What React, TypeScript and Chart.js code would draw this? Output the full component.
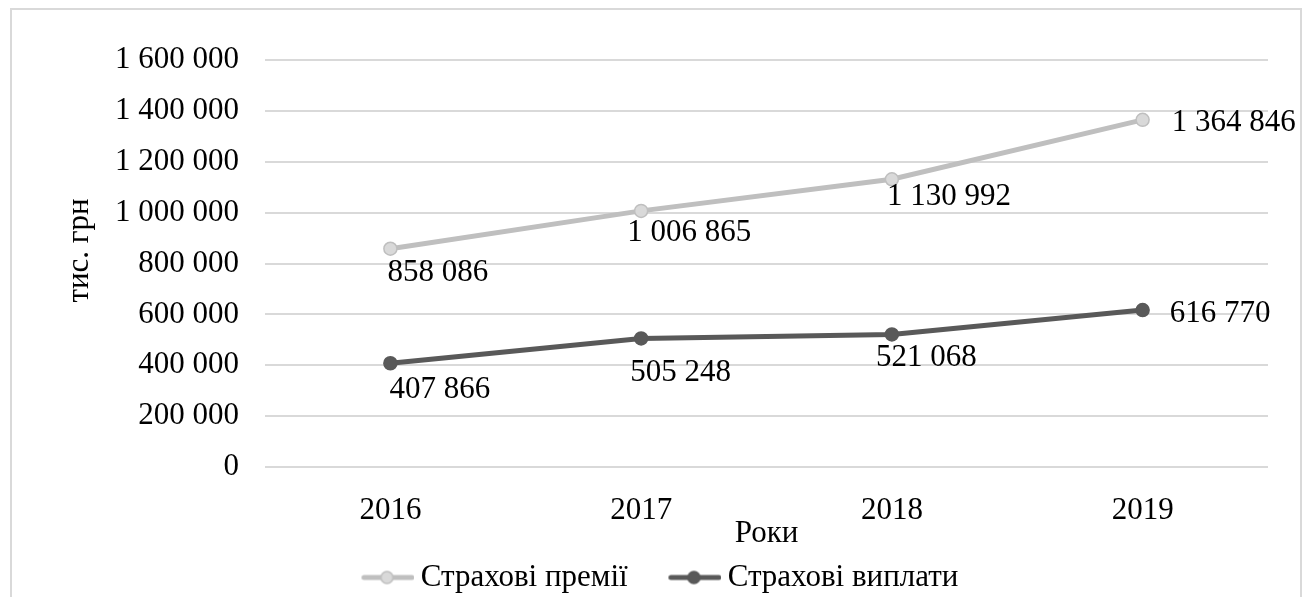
import React, { useEffect, useRef } from "react";
import { Chart, registerables } from "chart.js";

Chart.register(...registerables);

const years = ["2016", "2017", "2018", "2019"];
const premiums = [858086, 1006865, 1130992, 1364846];
const payouts = [407866, 505248, 521068, 616770];
const seriesNames = ["Страхові премії", "Страхові виплати"];
const yTicks = [0, 200000, 400000, 600000, 800000, 1000000, 1200000, 1400000, 1600000];
const yTitle = "тис. грн";
const xTitle = "Роки";

// label nudges (pixels, relative to the point the library computed)
const labelNudges = [
  [[-3, 24], [-14, 22], [-5, 18], [29, 3]],
  [[-1, 27], [-11, 34], [-16, 23], [27, 4]],
];

const FONT = "'Liberation Serif', 'Times New Roman', serif";
const FS = 31;
const LEG_BOX = 74.5;

const fmt = (v: number) => String(v).replace(/\B(?=(\d{3})+(?!\d))/g, " ");

function legendSymbol(line: string, fill: string, border: string) {
  const W = LEG_BOX + 19;
  const c = document.createElement("canvas");
  c.width = W;
  c.height = 16;
  const g = c.getContext("2d")!;
  const x0 = W - 54;
  g.strokeStyle = line;
  g.lineWidth = 5;
  g.lineCap = "round";
  g.beginPath();
  g.moveTo(x0 + 3, 8);
  g.lineTo(x0 + 51, 8);
  g.stroke();
  g.beginPath();
  g.arc(x0 + 26, 8, 6, 0, Math.PI * 2);
  g.fillStyle = fill;
  g.fill();
  g.lineWidth = 1.5;
  g.strokeStyle = border;
  g.stroke();
  return c;
}

export default function App() {
  const ref = useRef<HTMLCanvasElement | null>(null);

  useEffect(() => {
    if (!ref.current) return;
    const sym1 = legendSymbol("#bfbfbf", "#d9d9d9", "#bfbfbf");
    const sym2 = legendSymbol("#595959", "#595959", "#595959");

    const labelsPlugin = {
      id: "valueLabels",
      afterDatasetsDraw(chart: any) {
        const ctx = chart.ctx;
        ctx.save();
        ctx.font = `${FS}px ${FONT}`;
        ctx.fillStyle = "#000";
        ctx.textAlign = "left";
        ctx.textBaseline = "middle";
        chart.data.datasets.forEach((ds: any, di: number) => {
          const meta = chart.getDatasetMeta(di);
          meta.data.forEach((el: any, i: number) => {
            const [dx, dy] = labelNudges[di][i];
            ctx.fillText(fmt(ds.data[i]), el.x + dx, el.y + dy);
          });
        });
        ctx.restore();
      },
    };

    const titlesPlugin = {
      id: "axisTitles",
      afterDraw(chart: any) {
        const ctx = chart.ctx;
        const a = chart.chartArea;
        ctx.save();
        ctx.font = `${FS}px ${FONT}`;
        ctx.fillStyle = "#000";
        ctx.textAlign = "center";
        ctx.textBaseline = "middle";
        ctx.fillText(xTitle, (a.left + a.right) / 2, 534);
        ctx.translate(80, (a.top + a.bottom) / 2 - 13);
        ctx.rotate(-Math.PI / 2);
        ctx.fillText(yTitle, 0, 0);
        ctx.restore();
      },
    };

    const chart = new Chart(ref.current, {
      type: "line",
      data: {
        labels: years,
        datasets: [
          {
            label: seriesNames[0],
            data: premiums,
            borderColor: "#bfbfbf",
            backgroundColor: "#d9d9d9",
            pointBackgroundColor: "#d9d9d9",
            pointBorderColor: "#bfbfbf",
            pointBorderWidth: 1.5,
            pointRadius: 6.5,
            borderWidth: 5,
            tension: 0,
          },
          {
            label: seriesNames[1],
            data: payouts,
            borderColor: "#595959",
            backgroundColor: "#595959",
            pointBackgroundColor: "#595959",
            pointBorderColor: "#595959",
            pointBorderWidth: 1.5,
            pointRadius: 6.5,
            borderWidth: 5,
            tension: 0,
          },
        ],
      },
      options: {
        responsive: false,
        animation: false,
        devicePixelRatio: 1,
        layout: { padding: { left: 21, right: 44, top: 60, bottom: 0 } },
        plugins: {
          tooltip: { enabled: false },
          legend: {
            position: "bottom",
            labels: {
              usePointStyle: true,
              pointStyleWidth: LEG_BOX,
              padding: 10,
              color: "#000",
              font: { family: FONT, size: FS },
              generateLabels: () => [
                { text: seriesNames[0], pointStyle: sym1, fillStyle: "#d9d9d9", strokeStyle: "#bfbfbf", lineWidth: 0, datasetIndex: 0, hidden: false },
                { text: seriesNames[1], pointStyle: sym2, fillStyle: "#595959", strokeStyle: "#595959", lineWidth: 0, datasetIndex: 1, hidden: false },
              ] as any,
            },
          },
        },
        scales: {
          x: {
            type: "category",
            offset: true,
            grid: { display: false, drawTicks: false },
            border: { display: false },
            ticks: {
              color: "#000",
              font: { family: FONT, size: FS },
              padding: 25.4,
              maxRotation: 0,
              autoSkip: false,
            },
            afterFit: (s: any) => {
              s.height = 85;
            },
          },
          y: {
            min: 0,
            max: 1600000,
            grid: { color: "#d9d9d9", lineWidth: 2, drawTicks: false },
            border: { display: false },
            afterBuildTicks: (s: any) => {
              s.ticks = yTicks.map((v) => ({ value: v }));
            },
            ticks: {
              color: "#000",
              font: { family: FONT, size: FS },
              padding: 26,
              callback: (v: any) => fmt(Number(v)),
            },
            afterFit: (s: any) => {
              s.width = 244;
            },
          },
        },
      },
      plugins: [labelsPlugin, titlesPlugin],
    });
    return () => chart.destroy();
  }, []);

  return (
    <div style={{ position: "fixed", left: 0, top: 0, width: 1312, height: 597, overflow: "hidden", background: "#fff" }}>
      <div
        style={{
          position: "absolute",
          left: 10,
          top: 8,
          width: 1292,
          height: 700,
          border: "2px solid #d9d9d9",
          boxSizing: "border-box",
        }}
      />
      <canvas
        ref={ref}
        width={1312}
        height={603}
        style={{ position: "absolute", left: 0, top: 0, display: "block" }}
      />
    </div>
  );
}
